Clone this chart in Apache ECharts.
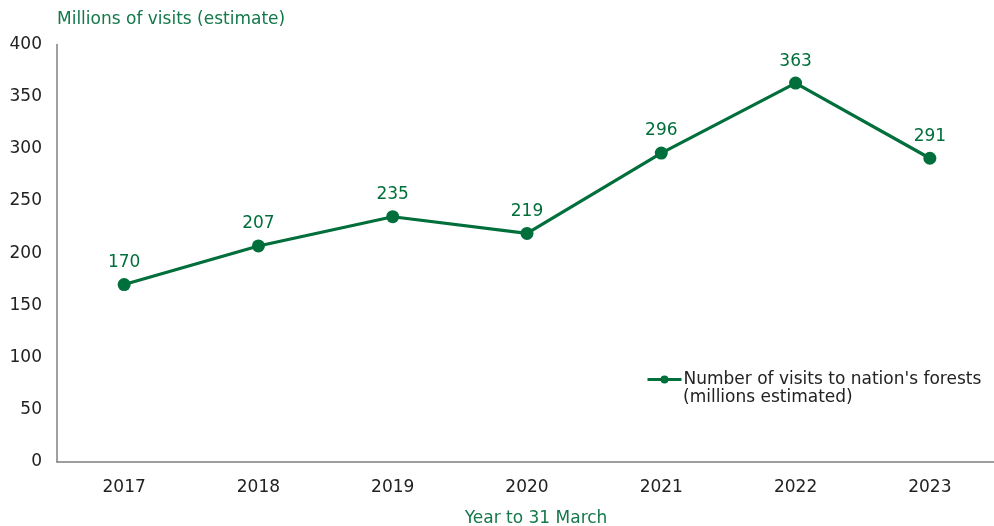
<!DOCTYPE html>
<html>
<head>
<meta charset="utf-8">
<script src="https://cdn.jsdelivr.net/npm/echarts@6/dist/echarts.min.js"></script>
<style>
  html, body { margin: 0; padding: 0; background: #fff; }
  #chart { width: 994px; height: 526px; }
</style>
</head>
<body>
<div id="chart"></div>
<script>
// Annual visits to the nation's forests, year to 31 March
const years = ['2017', '2018', '2019', '2020', '2021', '2022', '2023'];
const visits = [170, 207, 235, 219, 296, 363, 291];
const yTicks = [0, 50, 100, 150, 200, 250, 300, 350, 400];

const seriesName = "Number of visits to nation's forests";
const green = '#006f3b';
const titleGreen = '#14784a';
const font = 'DejaVu Sans, Verdana, sans-serif';
const fs = 17;

const chart = echarts.init(document.getElementById('chart'));
chart.setOption({
  animation: false,
  textStyle: { fontFamily: font },
  title: {
    text: 'Millions of visits (estimate)',
    left: 52, top: 6,
    textStyle: { color: titleGreen, fontSize: fs, fontWeight: 'normal', fontFamily: font }
  },
  grid: { left: 57, top: 44.5, width: 940, height: 417.5, outerBoundsMode: 'none', containLabel: false },
  legend: {
    data: [seriesName],
    left: 641, top: 366,
    itemWidth: 34, itemHeight: 10, itemGap: 0,
    lineStyle: { width: 3 },
    textStyle: { color: '#222', fontSize: fs, fontFamily: font, padding: [0, 0, 0, -3] }
  },
  graphic: [{
    type: 'text', left: 683, top: 389,
    style: { text: '(millions estimated)', fill: '#222', font: fs + 'px ' + font }
  }],
  xAxis: {
    type: 'category',
    data: years,
    boundaryGap: true,
    name: 'Year to 31 March',
    nameLocation: 'middle',
    nameGap: 48,
    nameTextStyle: { color: titleGreen, fontSize: fs, padding: [0, 0, 0, 18] },
    axisLine: { lineStyle: { color: '#7f7f7f', width: 1.5 } },
    axisTick: { show: false },
    axisLabel: { color: '#222', fontSize: fs, margin: 17 }
  },
  yAxis: {
    type: 'value',
    min: yTicks[0], max: yTicks[yTicks.length - 1], interval: yTicks[1] - yTicks[0],
    axisLine: { show: true, lineStyle: { color: '#7f7f7f', width: 1.5 } },
    axisTick: { show: false },
    splitLine: { show: false },
    axisLabel: { color: '#222', fontSize: fs, margin: 15 }
  },
  series: [{
    name: seriesName,
    type: 'line',
    data: visits,
    symbol: 'circle',
    symbolSize: 13,
    itemStyle: { color: green },
    lineStyle: { color: green, width: 3.2 },
    label: {
      show: true, position: 'top', distance: 7,
      color: green, fontSize: fs, fontFamily: font
    }
  }]
});
</script>
</body>
</html>
